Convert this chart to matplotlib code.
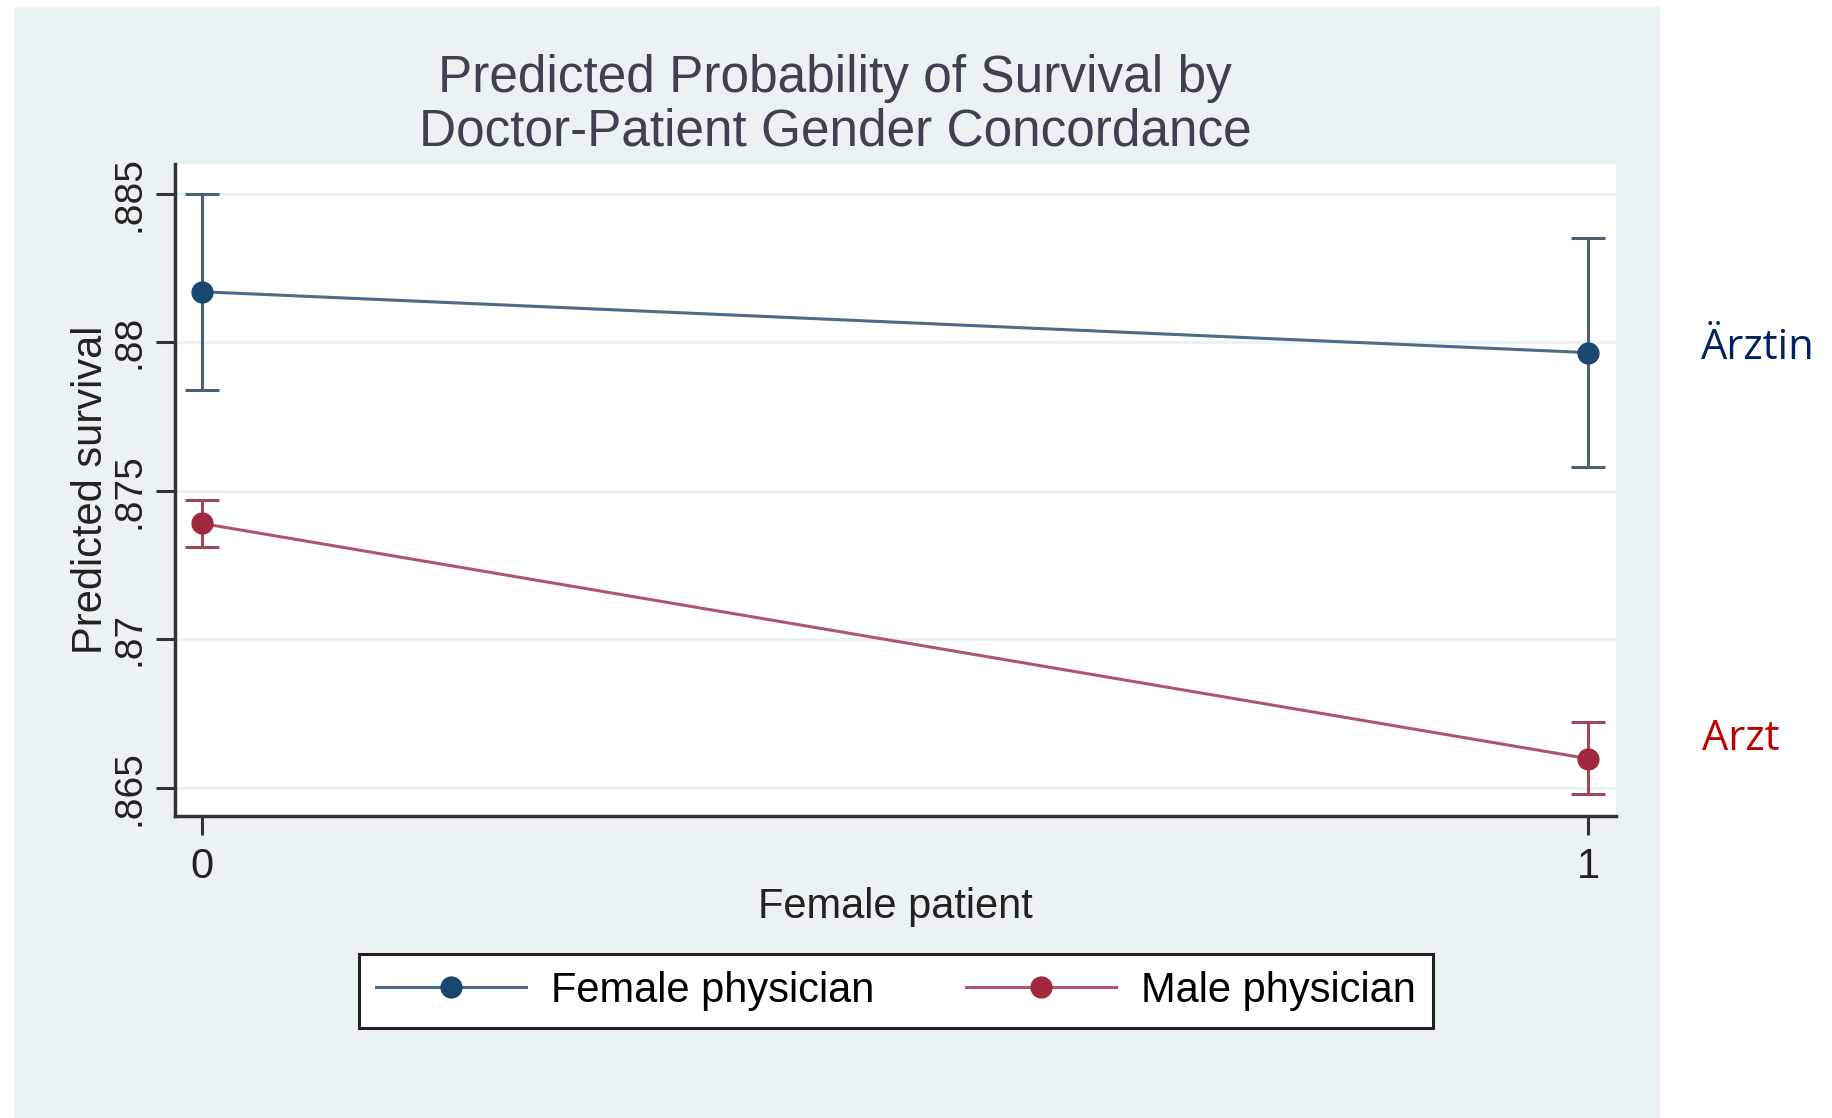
import matplotlib
matplotlib.use("Agg")
import matplotlib.pyplot as plt
from matplotlib.patches import Rectangle

plt.rcParams['font.family'] = ['Liberation Sans', 'DejaVu Sans']

# data
patient = [0, 1]
female_pred = [0.8817, 0.87965]
female_lo = [0.8784, 0.8758]
female_hi = [0.8850, 0.8835]
male_pred = [0.8739, 0.86598]
male_lo = [0.8731, 0.8648]
male_hi = [0.8747, 0.8672]
yticks = [0.865, 0.87, 0.875, 0.88, 0.885]
ytick_labels = ['.865', '.87', '.875', '.88', '.885']
series_names = ['Female physician', 'Male physician']
side_labels = ['Ärztin', 'Arzt']


def main():
    fig = plt.figure(figsize=(18.33, 11.18), dpi=100)
    fig.patch.set_facecolor('white')

    # Stata graph region background
    bg = Rectangle((14 / 1833, 0), (1660 - 14) / 1833, 1 - 7 / 1118,
                   transform=fig.transFigure, facecolor='#eaf2f3',
                   edgecolor='none', zorder=-10)
    fig.add_artist(bg)

    ax = fig.add_axes([175 / 1833, 1 - 816 / 1118, (1616 - 175) / 1833, (816 - 164) / 1118])
    ax.set_facecolor('white')

    # female physician
    f_err = [[p - l for p, l in zip(female_pred, female_lo)],
             [h - p for p, h in zip(female_pred, female_hi)]]
    ax.errorbar(patient, female_pred, yerr=f_err, fmt='none', ecolor='#4a6178',
                elinewidth=2.2, capsize=12, capthick=2.2, zorder=3)
    ax.plot(patient, female_pred, color='#4f6b85', lw=2.2, marker='o', ms=15,
            mfc='#1a476f', mec='#1a476f', zorder=4, label=series_names[0])

    # male physician
    m_err = [[p - l for p, l in zip(male_pred, male_lo)],
             [h - p for p, h in zip(male_pred, male_hi)]]
    ax.errorbar(patient, male_pred, yerr=m_err, fmt='none', ecolor='#9c4a5a',
                elinewidth=2.2, capsize=12, capthick=2.2, zorder=3)
    ax.plot(patient, male_pred, color='#b0566a', lw=2.2, marker='o', ms=15,
            mfc='#a0283c', mec='#a0283c', zorder=4, label=series_names[1])

    ax.set_xlim(-0.0194, 1.020)
    ax.set_ylim(0.86405, 0.8860)
    ax.set_xticks(patient)
    ax.set_xticklabels(['0', '1'], fontsize=30, color='#222222')
    ax.set_yticks(yticks)
    ax.set_yticklabels(ytick_labels, fontsize=28, color='#222222', rotation=90, va='center')
    ax.tick_params(axis='both', length=14, width=2.2, color='#333333', direction='out', pad=8)
    ax.tick_params(axis='y', pad=6)
    ax.grid(axis='y', color='#eaf2f3', lw=2.2)
    ax.set_axisbelow(True)

    for s in ['top', 'right']:
        ax.spines[s].set_visible(False)
    for s in ['left', 'bottom']:
        ax.spines[s].set_linewidth(2.5)
        ax.spines[s].set_color('#333333')

    ax.set_xlabel('Female patient', fontsize=30, color='#222222', labelpad=0)
    ax.set_ylabel('Predicted survival', fontsize=30, color='#222222', labelpad=0)

    fig.text(835 / 1833, 1 - 105 / 1118,
             'Predicted Probability of Survival by\nDoctor-Patient Gender Concordance',
             ha='center', va='center', fontsize=37, color='#404050', linespacing=1.12)

    leg = fig.legend(loc='center', bbox_to_anchor=(896 / 1833, 1 - 991 / 1118), ncol=2,
                     fontsize=30, frameon=True, fancybox=False, handlelength=3.6,
                     columnspacing=2.2, handletextpad=0.6, borderpad=0.4)
    leg.get_frame().set_edgecolor('#222222')
    leg.get_frame().set_linewidth(2.2)
    leg.get_frame().set_facecolor('white')
    leg.get_frame().set_alpha(1)

    fig.text(1701 / 1833, 1 - 348 / 1118, side_labels[0], fontsize=30, color='#002060',
             family=['Open Sans', 'DejaVu Sans'], ha='left', va='center')
    fig.text(1702 / 1833, 1 - 739 / 1118, side_labels[1], fontsize=30, color='#c00000',
             family=['Open Sans', 'DejaVu Sans'], ha='left', va='center')

    fig.savefig('out.png', dpi=100, facecolor='white')


if __name__ == "__main__":
    main()
